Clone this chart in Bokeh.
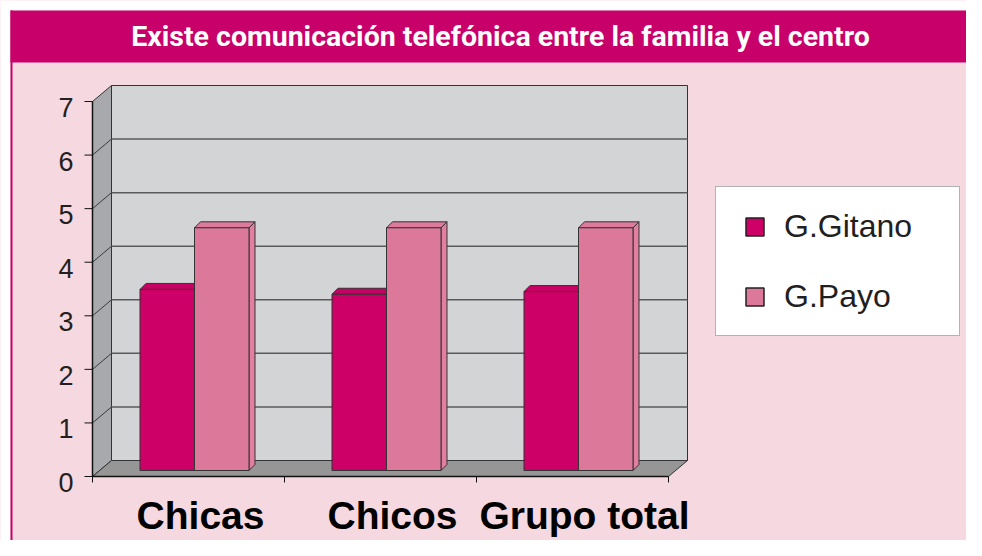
from bokeh.plotting import figure
from bokeh.models import Range1d, BoxAnnotation, Label, Legend, LegendItem
from bokeh.core.properties import value
from bokeh.embed import file_html
from bokeh.resources import INLINE

# ---------------- data ----------------
categories = ["Chicas", "Chicos", "Grupo total"]
gitano = [3.38, 3.29, 3.34]
payo = [4.53, 4.53, 4.53]
series_names = ["G.Gitano", "G.Payo"]
y_ticks = [0, 1, 2, 3, 4, 5, 6, 7]
title_text = "Existe comunicación telefónica entre la familia y el centro"

# ---------------- style ----------------
BG = "#F6D8E1"
MAGENTA = "#C8006A"
C_GIT = "#CC0066"
C_GIT_TOP = "#C70063"
C_PAY = "#DC7899"
C_PAY_SIDE = "#E07FA0"
C_PAY_TOP = "#DE7B9C"
EDGE = "#333333"
FONT_NAME = "Liberation Sans"
FONT = value(FONT_NAME)

W, H = 966, 540
OX, OY = 92, 476            # pixel of the front corner (category 0, value 0)
PXX = 192.0                 # pixels per category
PXY = 375.0 / 7.0           # pixels per value unit


def xd(px):
    return (px - OX) / PXX


def yd(py):
    return (OY - py) / PXY


N = len(categories)
YMAX = y_ticks[-1]
DX, DY = 19 / PXX, 16 / PXY         # depth of the walls
BX, BY = 6 / PXX, 6 / PXY           # plane of the bars
BDX, BDY = 6 / PXX, 6 / PXY         # depth of a bar
BW = 54.5 / PXX                     # bar width

p = figure(width=W, height=H, x_range=Range1d(xd(0), xd(W)), y_range=Range1d(yd(H), yd(0)),
           min_border_left=0, min_border_right=0, min_border_top=0, min_border_bottom=0,
           x_axis_location=None, y_axis_location=None, toolbar_location=None,
           output_backend="svg", title=None)
p.background_fill_color = BG
p.border_fill_color = BG
p.outline_line_color = None
p.grid.grid_line_color = None

# ---------------- page frame and title band ----------------
p.add_layout(BoxAnnotation(bottom=yd(10), fill_color="white", fill_alpha=1, line_color=None))
p.add_layout(BoxAnnotation(right=xd(10), fill_color="white", fill_alpha=1, line_color=None))
p.add_layout(BoxAnnotation(left=xd(10), right=xd(12), top=yd(10), fill_color=MAGENTA,
                           fill_alpha=1, line_color=None))
p.add_layout(BoxAnnotation(left=xd(10), top=yd(10), bottom=yd(62), fill_color=MAGENTA,
                           fill_alpha=1, line_color=None))
p.add_layout(Label(x=xd(500), y=yd(36), text=title_text, text_align="center", text_baseline="middle",
                   text_font="Roboto", text_font_style="bold",
                   text_font_size="28.5px", text_color="white"))

# ---------------- walls ----------------
p.patch([0, 0, DX, DX], [0, YMAX, YMAX + DY, DY], fill_color="#A7A9AC", line_color=EDGE, line_width=1)
p.quad(left=[DX], right=[N + DX], bottom=[DY], top=[YMAX + DY], fill_color="#D3D4D6",
       line_color=EDGE, line_width=1)
p.patch([0, N, N + DX, DX], [0, 0, DY, DY], fill_color="#969696", line_color=EDGE, line_width=1)

grid_vals = y_ticks[1:-1]
p.segment(x0=[DX] * len(grid_vals), y0=[v + DY for v in grid_vals],
          x1=[N + DX] * len(grid_vals), y1=[v + DY for v in grid_vals],
          line_color="#5A5A5A", line_width=1.5)
p.segment(x0=[0] * len(grid_vals), y0=grid_vals, x1=[DX] * len(grid_vals),
          y1=[v + DY for v in grid_vals], line_color="#3A3A3A", line_width=1)

# y axis line, ticks and labels
p.segment(x0=[0], y0=[0], x1=[0], y1=[YMAX], line_color="#111111", line_width=1.5)
p.segment(x0=[0] * len(y_ticks), y0=y_ticks, x1=[xd(OX - 8)] * len(y_ticks), y1=y_ticks,
          line_color="#111111", line_width=1)
p.text(x=[0] * len(y_ticks), y=y_ticks, text=[str(t) for t in y_ticks], x_offset=-19, y_offset=6,
       text_align="right", text_baseline="middle", text_font=FONT, text_font_size="27px",
       text_color="#231F20")

# x axis line, ticks and category labels
cat_edges = list(range(N + 1))
p.segment(x0=[0], y0=[0], x1=[N], y1=[0], line_color="#111111", line_width=1.5)
p.segment(x0=cat_edges, y0=[0] * (N + 1), x1=cat_edges, y1=[yd(OY + 6)] * (N + 1),
          line_color="#111111", line_width=1)

centers = [i + 0.5 + BX for i in range(N)]
p.text(x=centers, y=[0] * N, text=categories, x_offset=6, y_offset=39, text_align="center",
       text_baseline="alphabetic", text_font=FONT, text_font_style="bold",
       text_font_size="39px", text_color="#000000")

# ---------------- bars ----------------
def faces(x0s, vals):
    x1s = [x + BW for x in x0s]
    side_xs = [[x1, x1, x1 + BDX, x1 + BDX] for x1 in x1s]
    side_ys = [[BY, BY + v, BY + v + BDY, BY + BDY] for v in vals]
    top_xs = [[x0, x1, x1 + BDX, x0 + BDX] for x0, x1 in zip(x0s, x1s)]
    top_ys = [[BY + v, BY + v, BY + v + BDY, BY + v + BDY] for v in vals]
    return x1s, side_xs, side_ys, top_xs, top_ys


git_x0 = [c - BW for c in centers]
pay_x0 = list(centers)

legend_proxies = []
for x0s, vals, front, side, top in ((git_x0, gitano, C_GIT, C_GIT, C_GIT_TOP),
                                    (pay_x0, payo, C_PAY, C_PAY_SIDE, C_PAY_TOP)):
    # legend swatch renderer (sits behind the front faces)
    legend_proxies.append(p.scatter(x=[x + BW / 2 for x in x0s], y=[BY + v / 2 for v in vals],
                                    marker="square", size=8, fill_color=front,
                                    line_color="#222222", line_width=1.5))
for x0s, vals, front, side, top in ((git_x0, gitano, C_GIT, C_GIT, C_GIT_TOP),
                                    (pay_x0, payo, C_PAY, C_PAY_SIDE, C_PAY_TOP)):
    x1s, sxs, sys_, txs, tys = faces(x0s, vals)
    p.patches(sxs, sys_, fill_color=side, line_color=EDGE, line_width=1)
    p.patches(txs, tys, fill_color=top, line_color=EDGE, line_width=1)
    p.quad(left=x0s, right=x1s, bottom=[BY] * N, top=[BY + v for v in vals],
           fill_color=front, line_color=EDGE, line_width=1)

# ---------------- legend ----------------
legend = Legend(items=[LegendItem(label=series_names[0], renderers=[legend_proxies[0]], index=0),
                       LegendItem(label=series_names[1], renderers=[legend_proxies[1]], index=0)],
                location=(715, H - 336), padding=16, spacing=24, glyph_width=45, glyph_height=45,
                label_standoff=7, label_width=159, label_height=46, margin=0,
                label_text_font=FONT_NAME, label_text_font_size="32px", label_text_color="#231F20",
                border_line_color="#666666", border_line_width=1.5,
                background_fill_color="white", background_fill_alpha=1)
p.add_layout(legend)

open("out.html", "w").write(file_html(p, INLINE))
